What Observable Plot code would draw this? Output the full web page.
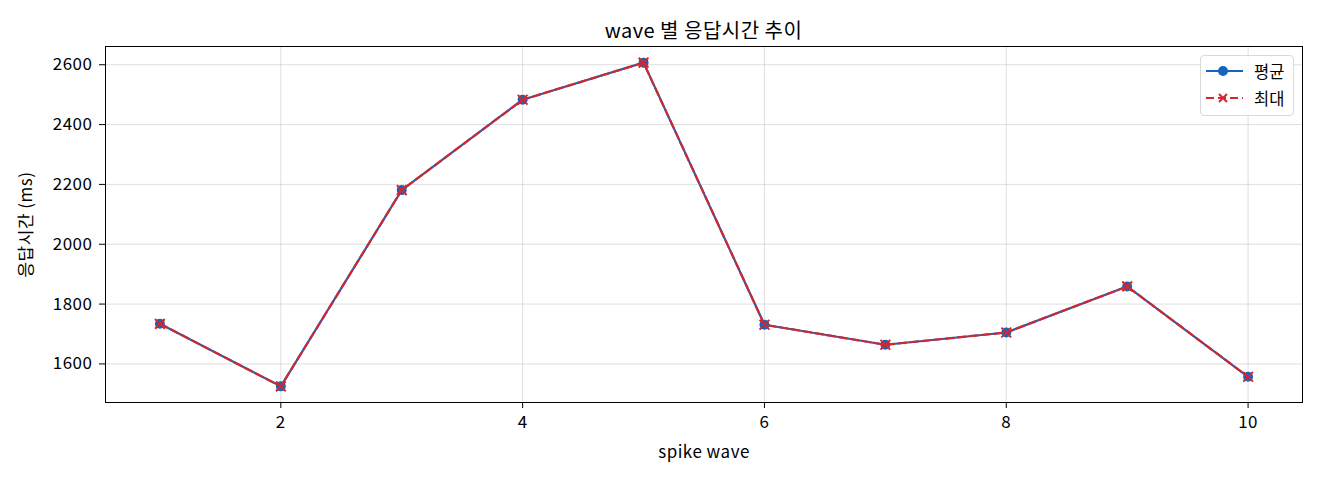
<!DOCTYPE html>
<html>
<head>
<meta charset="utf-8">
<script src="https://cdn.jsdelivr.net/npm/d3@7"></script>
<script src="https://cdn.jsdelivr.net/npm/@observablehq/plot@0.6"></script>
<style>
  html, body { margin: 0; padding: 0; background: #fff; }
  body { font-family: "Noto Sans CJK KR", "Noto Sans", sans-serif; }
  #wrap { position: relative; width: 1320px; height: 480px; }
  #title { box-sizing: border-box; height: 40px; padding: 20px 18px 0 105px; text-align: center; font-size: 20px; line-height: 20px; color: #000; white-space: nowrap; letter-spacing: 0.5px; }
  #legend { position: absolute; left: 1200px; top: 55px; width: 94px; height: 61px; box-sizing: border-box;
    border: 1px solid #d9d9d9; border-radius: 4px; background: rgba(255,255,255,0.85); font-size: 16.5px; color: #000; }
  .row { position: absolute; left: 0; height: 20px; display: flex; align-items: center; }
  .row span { margin-left: 4px; line-height: 20px; }
</style>
</head>
<body>
<div id="wrap">
  <div id="title">wave 별 응답시간 추이</div>
  <div id="chart"></div>
  <div id="legend">
    <div class="row" style="top:5px"><svg width="45" height="20" style="margin-left:4px;display:block"><line x1="1" x2="38" y1="10" y2="10" stroke="#1565c0" stroke-width="2.2"/><circle cx="18" cy="10" r="5" fill="#1565c0"/></svg><span>평균</span></div>
    <div class="row" style="top:32px"><svg width="45" height="20" style="margin-left:4px;display:block"><line x1="1" x2="38" y1="10" y2="10" stroke="#d0282e" stroke-width="2.2" stroke-dasharray="8,4"/><path d="M14,6L22,14M22,6L14,14" stroke="#d0282e" stroke-width="2"/></svg><span>최대</span></div>
  </div>
</div>
<script>
const waves = [1, 2, 3, 4, 5, 6, 7, 8, 9, 10];
const meanMs = [1734, 1525, 2181, 2483, 2607, 1731, 1664, 1705, 1859, 1557];
const maxMs  = [1734, 1525, 2181, 2483, 2607, 1731, 1664, 1705, 1859, 1557];
const xTicks = [2, 4, 6, 8, 10];
const yTicks = [1600, 1800, 2000, 2200, 2400, 2600];

const meanData = waves.map((w, i) => ({wave: w, ms: meanMs[i]}));
const maxData = waves.map((w, i) => ({wave: w, ms: maxMs[i]}));

const blue = "#1565c0";
const red = "#d0282e";

const chart = Plot.plot({
  width: 1320,
  height: 440,
  marginTop: 6,
  marginBottom: 78,
  marginLeft: 105,
  marginRight: 18,
  style: { fontFamily: '"Noto Sans CJK KR", "Noto Sans", sans-serif', fontSize: "17px", color: "#000", background: "#fff", letterSpacing: "0.5px" },
  x: { domain: [0.55, 10.45] },
  y: { domain: [1471, 2661] },
  marks: [
    Plot.gridX(xTicks, { stroke: "#b0b0b0", strokeOpacity: 0.4 }),
    Plot.gridY(yTicks, { stroke: "#b0b0b0", strokeOpacity: 0.4 }),
    Plot.axisX(xTicks, { tickSize: 6, tickPadding: 7, label: "spike wave", labelAnchor: "center", labelArrow: "none", labelOffset: 55, tickFormat: d => String(d) }),
    Plot.axisY(yTicks, { tickSize: 6, tickPadding: 7, label: "응답시간 (ms)", labelAnchor: "center", labelArrow: "none", labelOffset: 86, tickFormat: d => String(d) }),
    Plot.line(meanData, { x: "wave", y: "ms", stroke: blue, strokeWidth: 2.2 }),
    Plot.dot(meanData, { x: "wave", y: "ms", r: 5, fill: blue }),
    Plot.line(maxData, { x: "wave", y: "ms", stroke: red, strokeWidth: 2.2, strokeDasharray: "8,4" }),
    Plot.dot(maxData, { x: "wave", y: "ms", symbol: "times", r: 4.5, stroke: red, strokeWidth: 2 }),
    Plot.frame({ stroke: "#000", strokeWidth: 1 })
  ]
});
document.getElementById("chart").appendChild(chart);
</script>
</body>
</html>
